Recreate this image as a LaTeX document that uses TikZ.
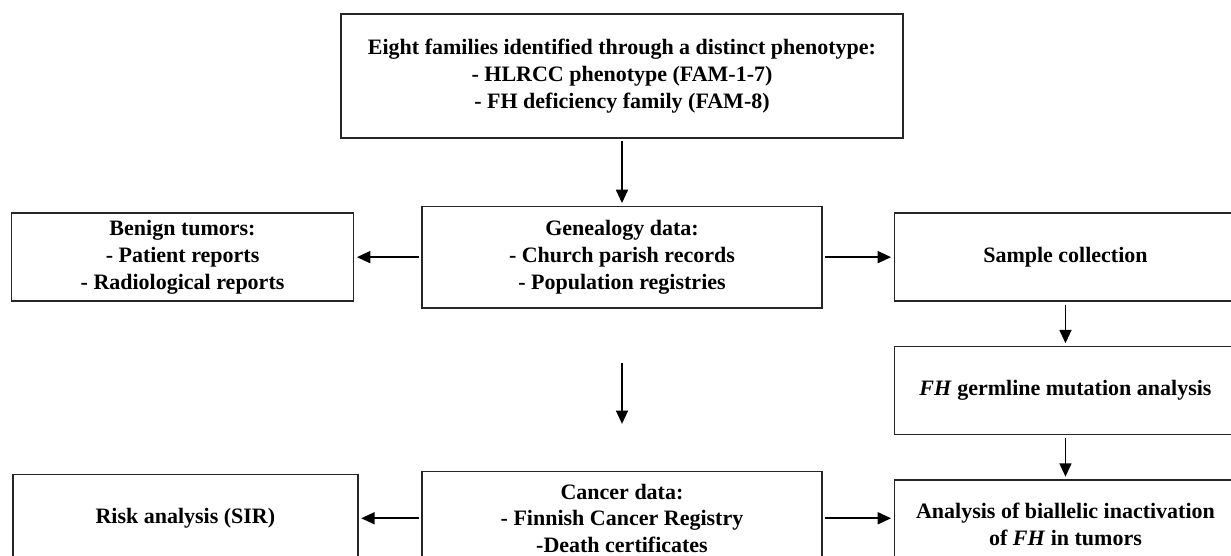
\documentclass[tikz,border=0pt]{standalone}
\usepackage{fontspec}
\setmainfont{Liberation Serif}
\usepackage{tikz}
\usetikzlibrary{positioning,arrows.meta}
\tikzstyle{WideNode}=[rectangle, draw=black!85, line width=1.1pt, align=center, minimum width=421.5pt, minimum height=93pt]
\tikzstyle{DataNode}=[rectangle, draw=black!85, line width=1.1pt, align=center, minimum width=300pt, minimum height=76pt]
\tikzstyle{StepNode}=[rectangle, draw=black!85, line width=1.1pt, align=center, minimum width=256.5pt, minimum height=66pt]
\tikzstyle{FlowArrow}=[-{Triangle[length=10pt,width=9pt]}, line width=1.2pt, shorten <=2pt, shorten >=2pt]

\begin{document}
\begin{tikzpicture}[font=\fontsize{16.5pt}{20pt}\selectfont\bfseries]

    \clip (-466.5pt,57pt) rectangle (456.75pt,-360pt);

    \node (fam) [WideNode] {Eight families identified through a distinct phenotype:\\- HLRCC phenotype (FAM-1-7)\\- FH deficiency family (FAM-8)};
    \node (geneal) [DataNode, below=50.25pt of fam] {Genealogy data:\\- Church parish records\\- Population registries};
    \node (benign) [StepNode, left=50.25pt of geneal] {Benign tumors:\\- Patient reports\\- Radiological reports};
    \node (sample) [StepNode, right=53.25pt of geneal] {Sample collection};
    \node (germ) [StepNode, below=33pt of sample] {\textit{FH} germline mutation analysis};
    \node (biall) [StepNode, below=33pt of germ] {Analysis of biallelic inactivation\\of \textit{FH} in tumors};
    \node (cancer) [DataNode, below=121.5pt of geneal, minimum height=70.5pt] {Cancer data:\\- Finnish Cancer Registry\\-Death certificates};
    \node (risk) [StepNode, left=47pt of cancer, minimum width=258.75pt] {Risk analysis (SIR)};

    \draw [FlowArrow] (fam) -- (geneal);
    \draw [FlowArrow] (geneal) -- (benign);
    \draw [FlowArrow] (geneal) -- (sample);
    \draw [FlowArrow] (sample) -- (germ);
    \draw [FlowArrow] (germ) -- (biall);
    \draw [FlowArrow, shorten <=40.5pt, shorten >=35pt] (geneal) -- (cancer);
    \draw [FlowArrow] (cancer) -- (risk);
    \draw [FlowArrow] (cancer.east) -- (cancer.east -| biall.west);
\end{tikzpicture}
\end{document}
